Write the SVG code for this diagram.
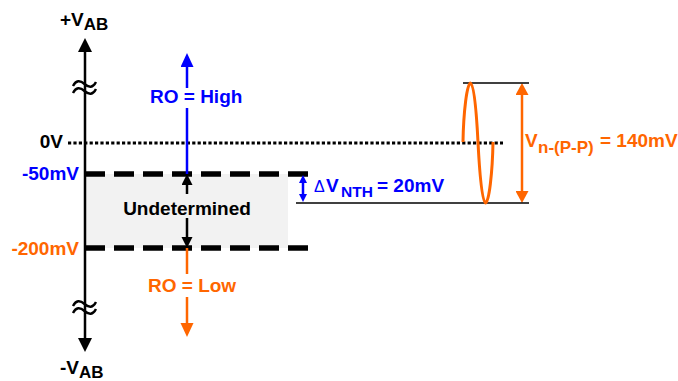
<svg xmlns="http://www.w3.org/2000/svg" width="678" height="381" viewBox="0 0 678 381">
<defs>
<style>
text{font-family:"Liberation Sans",Arial,sans-serif;font-weight:bold;font-size:19px}
.sub{font-size:17px}
.blk{fill:#000}
.blu{fill:#0000ff}
.org{fill:#ff6600}
.axis{stroke:#000;stroke-width:2.5;fill:none}
.brk{stroke:#000;stroke-width:2.4;fill:none}
.dash{stroke:#000;stroke-width:5.5;stroke-dasharray:20 9;fill:none}
.dot{stroke:#000;stroke-width:2.8;stroke-dasharray:3.2 2.2;fill:none}
.thin{stroke:#000;stroke-width:1.5;fill:none}
.bl{stroke:#0000ff;stroke-width:2.5;fill:none}
.ol{stroke:#ff6600;stroke-width:2.5;fill:none}
.kl{stroke:#000;stroke-width:2.5;fill:none}
</style>
<marker id="mAxis" markerUnits="userSpaceOnUse" markerWidth="14" markerHeight="14" refX="7" refY="7" orient="auto-start-reverse"><path d="M0,0 L14,7 L0,14 Z" fill="#000"/></marker>
<marker id="mBlue" markerUnits="userSpaceOnUse" markerWidth="14" markerHeight="14" refX="7" refY="6.5" orient="auto"><path d="M0,0 L14,6.5 L0,13 Z" fill="#0000ff"/></marker>
<marker id="mOrg" markerUnits="userSpaceOnUse" markerWidth="14" markerHeight="14" refX="7" refY="6.5" orient="auto"><path d="M0,0 L14,6.5 L0,13 Z" fill="#ff6600"/></marker>
<marker id="mBlk" markerUnits="userSpaceOnUse" markerWidth="12" markerHeight="12" refX="5" refY="5.5" orient="auto"><path d="M0,0 L11,5.5 L0,11 Z" fill="#000"/></marker>
<marker id="mBlueS" markerUnits="userSpaceOnUse" markerWidth="9" markerHeight="9" refX="4" refY="4" orient="auto-start-reverse"><path d="M0,0 L8,4 L0,8 Z" fill="#0000ff"/></marker>
<marker id="mOrgV" markerUnits="userSpaceOnUse" markerWidth="13" markerHeight="13" refX="6" refY="6.5" orient="auto-start-reverse"><path d="M0,0 L12,6.5 L0,13 Z" fill="#ff6600"/></marker>
</defs>

<g id="undetermined-region">
<rect x="85" y="174" width="203" height="74" fill="#f2f2f2"/>
</g>

<g id="axis">
<line class="axis" x1="85" y1="45" x2="85" y2="345" marker-start="url(#mAxis)" marker-end="url(#mAxis)"/>
<path class="brk" d="M73,86 C76,80 80,80 84.5,84 C89,88 93,88 96,82 M73,93 C76,87 80,87 84.5,91 C89,95 93,95 96,89"/>
<path class="brk" d="M73,306 C76,300 80,300 84.5,304 C89,308 93,308 96,302 M73,313 C76,307 80,307 84.5,311 C89,315 93,315 96,309"/>
<text x="60" y="26" class="blk">+V<tspan class="sub" dy="4">AB</tspan></text>
<text x="60" y="374" class="blk">-V<tspan class="sub" dy="3.5">AB</tspan></text>
</g>

<g id="level-0V">
<line class="dot" x1="68" y1="143" x2="503" y2="143"/>
<text x="63" y="148" text-anchor="end" class="blk">0V</text>
</g>

<g id="level-50mV">
<line class="dash" x1="85" y1="174" x2="308" y2="174"/>
<text x="79" y="180" text-anchor="end" class="blu">-50mV</text>
</g>

<g id="level-200mV">
<line class="dash" x1="85" y1="248" x2="308" y2="248"/>
<text x="79" y="255" text-anchor="end" class="org">-200mV</text>
</g>

<g id="connectors">
<line class="bl" x1="187" y1="174" x2="187" y2="108"/>
<line class="bl" x1="187" y1="88" x2="187" y2="60" marker-end="url(#mBlue)"/>
<line class="kl" x1="187" y1="194" x2="187" y2="180" marker-end="url(#mBlk)"/>
<line class="kl" x1="187" y1="218" x2="187" y2="242" marker-end="url(#mBlk)"/>
<line class="ol" x1="187" y1="248" x2="187" y2="274"/>
<line class="ol" x1="187" y1="297" x2="187" y2="330" marker-end="url(#mOrg)"/>
<line class="bl" stroke-width="1.8" x1="303" y1="179" x2="303" y2="198" marker-start="url(#mBlueS)" marker-end="url(#mBlueS)"/>
<line class="ol" x1="522" y1="89" x2="522" y2="197" marker-start="url(#mOrgV)" marker-end="url(#mOrgV)"/>
</g>

<g id="label-high"><text x="150" y="103" class="blu">RO = High</text></g>
<g id="label-undetermined"><text x="187" y="215" text-anchor="middle" class="blk">Undetermined</text></g>
<g id="label-low"><text x="148" y="292" class="org">RO = Low</text></g>

<g id="noise">
<line class="thin" x1="463" y1="83" x2="529" y2="83"/>
<line class="thin" x1="296" y1="203" x2="529" y2="203"/>
<path d="M463,142 C463.5,112 467,83 470.5,83 C474,83 476.5,112 478,142 C479.5,172 482,203 485.5,203 C489,203 492.5,172 493,142" stroke="#ff6600" stroke-width="3" fill="none"/>
<text x="525" y="147" class="org">V<tspan x="538" y="153" class="sub">n-(P-P)</tspan><tspan x="600" y="147">= 140mV</tspan></text>
</g>

<g id="label-dvnth">
<text x="314" y="192" class="blu"><tspan font-weight="normal" font-size="16">Δ</tspan><tspan x="326">V</tspan><tspan x="341" y="197" font-size="15.5">NTH</tspan><tspan x="377" y="192">= 20mV</tspan></text>
</g>
</svg>
